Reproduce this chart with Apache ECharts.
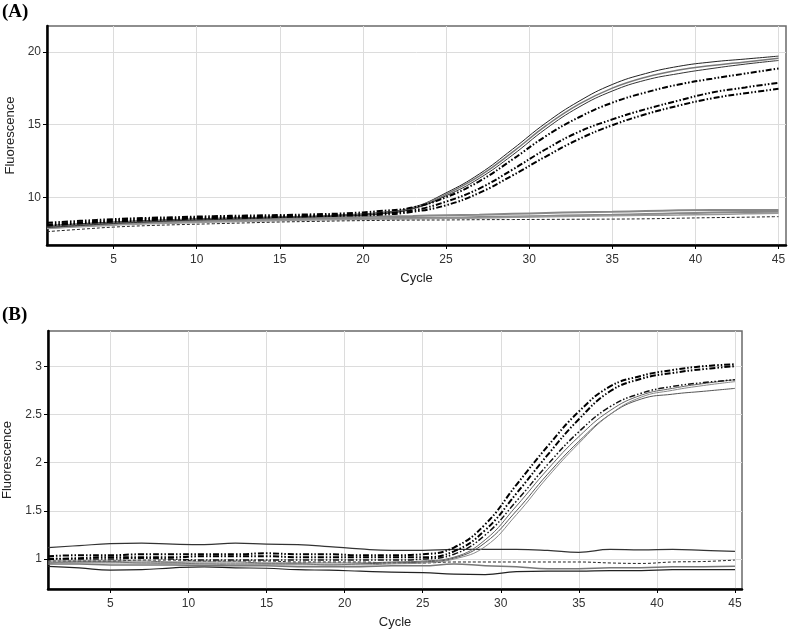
<!DOCTYPE html>
<html>
<head>
<meta charset="utf-8">
<script src="https://cdn.jsdelivr.net/npm/echarts@6/dist/echarts.min.js"></script>
<style>html,body{margin:0;padding:0;background:#fff}#c{width:790px;height:634px}</style>
</head>
<body>
<div id="c"></div>
<script>
// Shared cycle positions
var cycles = [1,3,5,7,9,11,13,15,17,19,21,23,25,27,29,31,33,35,37,39,41,43,45];
var xTicks = [5,10,15,20,25,30,35,40,45];
var yTicksA = [10,15,20];
var yTicksB = [1,1.5,2,2.5,3];

// Panel A
var A_S1 = [8.05,8.18,8.3,8.4,8.48,8.55,8.6,8.65,8.7,8.8,8.95,9.3,10.3,11.6,13.3,15.1,16.6,17.75,18.5,19.0,19.3,19.5,19.7];
var A_S2 = [7.98,8.12,8.25,8.35,8.43,8.5,8.56,8.62,8.68,8.76,8.9,9.25,10.2,11.45,13.1,14.9,16.4,17.5,18.25,18.75,19.05,19.3,19.55];
var A_S3 = [7.92,8.06,8.2,8.3,8.4,8.47,8.53,8.6,8.65,8.72,8.85,9.2,10.1,11.3,12.9,14.7,16.2,17.3,18.05,18.5,18.85,19.15,19.4];
var A_D1 = [8.25,8.38,8.5,8.58,8.64,8.7,8.74,8.78,8.83,8.9,9.05,9.3,10.0,11.1,12.6,14.2,15.5,16.5,17.2,17.75,18.15,18.5,18.85];
var A_D2 = [8.12,8.28,8.4,8.5,8.56,8.62,8.66,8.7,8.75,8.8,8.9,9.1,9.7,10.6,11.9,13.3,14.5,15.35,16.05,16.65,17.2,17.55,17.87];
var A_D3 = [8.05,8.2,8.32,8.42,8.5,8.56,8.6,8.65,8.7,8.74,8.8,9.0,9.45,10.3,11.5,12.8,14.0,14.95,15.7,16.3,16.8,17.15,17.45];
var A_F1 = [7.95,8.1,8.2,8.3,8.37,8.43,8.5,8.55,8.6,8.63,8.68,8.72,8.76,8.8,8.86,8.92,8.97,9.0,9.05,9.1,9.12,9.12,9.13];
var A_F2 = [7.88,8.03,8.14,8.24,8.3,8.36,8.42,8.46,8.5,8.53,8.56,8.58,8.6,8.64,8.68,8.72,8.76,8.8,8.85,8.9,8.95,8.98,9.01];
var A_F3 = [7.85,7.98,8.08,8.18,8.24,8.3,8.35,8.4,8.44,8.47,8.5,8.52,8.55,8.58,8.62,8.66,8.7,8.73,8.76,8.78,8.82,8.86,8.9];
var A_N  = [7.64,7.8,7.95,8.05,8.12,8.18,8.24,8.3,8.34,8.38,8.41,8.43,8.44,8.46,8.47,8.48,8.49,8.5,8.52,8.56,8.6,8.63,8.67];

// Panel B
var B_D1 = [1.03,1.04,1.04,1.05,1.05,1.05,1.05,1.06,1.05,1.05,1.04,1.04,1.05,1.12,1.36,1.77,2.17,2.53,2.79,2.9,2.96,3.0,3.02];
var B_D2 = [1.0,1.01,1.02,1.02,1.02,1.03,1.03,1.03,1.02,1.02,1.02,1.02,1.02,1.08,1.3,1.68,2.08,2.45,2.74,2.87,2.93,2.97,3.0];
var B_D3 = [1.01,1.0,1.0,1.01,1.0,0.99,0.99,0.99,0.99,0.99,0.99,0.99,1.0,1.05,1.25,1.6,1.98,2.32,2.58,2.72,2.79,2.83,2.86];
var B_S1 = [0.98,0.98,0.98,0.98,0.97,0.97,0.97,0.96,0.96,0.96,0.96,0.97,0.98,1.02,1.2,1.55,1.93,2.27,2.54,2.7,2.77,2.82,2.86];
var B_S2 = [0.96,0.97,0.97,0.96,0.96,0.95,0.95,0.95,0.95,0.94,0.95,0.96,0.97,1.01,1.17,1.5,1.88,2.22,2.5,2.66,2.71,2.74,2.77];
var B_S3 = [0.97,0.96,0.96,0.96,0.95,0.95,0.94,0.94,0.94,0.94,0.94,0.95,0.96,1.0,1.13,1.46,1.85,2.2,2.5,2.68,2.75,2.8,2.84];
var B_E1 = [1.12,1.14,1.16,1.165,1.155,1.15,1.165,1.155,1.15,1.13,1.105,1.09,1.09,1.1,1.1,1.1,1.09,1.07,1.1,1.095,1.1,1.09,1.08];
var B_E2 = [0.925,0.91,0.885,0.89,0.91,0.92,0.91,0.905,0.89,0.885,0.875,0.865,0.86,0.845,0.84,0.87,0.875,0.875,0.88,0.88,0.89,0.89,0.89];
var B_E3 = [0.95,0.95,0.94,0.94,0.94,0.93,0.93,0.93,0.92,0.92,0.92,0.93,0.93,0.95,0.93,0.92,0.9,0.9,0.91,0.91,0.92,0.92,0.925];
var B_N  = [0.98,0.98,0.98,0.99,0.99,0.98,0.98,0.98,0.97,0.97,0.97,0.96,0.96,0.97,0.97,0.97,0.97,0.97,0.96,0.955,0.97,0.975,0.99];

var FONT = 'Liberation Sans, Arial, sans-serif';
function pairs(v){ return cycles.map(function(c,i){ return [c, v[i]]; }); }
var DASHDOT = [6,2,1.5,2,1.5,2];

function mkX(idx){
  return {
    type:'value', gridIndex:idx, min:1, max:45.45,
    name:'Cycle', nameLocation:'middle', nameGap:27,
    nameTextStyle:{fontSize:13, color:'#222', fontFamily:FONT},
    axisLine:{show:true, onZero:false, lineStyle:{color:'#000', width:2.5}},
    axisTick:{show:true, length:4, customValues:xTicks, lineStyle:{color:'#000', width:1}},
    axisLabel:{customValues:xTicks, color:'#333', fontSize:12, fontFamily:FONT, margin:9},
    splitLine:{show:true, lineStyle:{color:'#dcdcdc', width:1}}
  };
}
function mkY(idx, mn, mx, ticks){
  return {
    type:'value', gridIndex:idx, min:mn, max:mx,
    name:'Fluorescence', nameLocation:'middle', nameGap:28,
    nameTextStyle:{fontSize:13, color:'#222', fontFamily:FONT},
    axisLine:{show:true, onZero:false, lineStyle:{color:'#000', width:2.5}},
    axisTick:{show:true, length:4, customValues:ticks, lineStyle:{color:'#000', width:1}},
    axisLabel:{customValues:ticks, color:'#333', fontSize:12, fontFamily:FONT, margin:6},
    splitLine:{show:true, lineStyle:{color:'#dcdcdc', width:1}}
  };
}
function ser(idx, v, color, width, type){
  return {
    type:'line', xAxisIndex:idx, yAxisIndex:idx, data:pairs(v),
    showSymbol:false, smooth:0.45, animation:false,
    lineStyle:{color:color, width:width, type:type||'solid'}
  };
}

var chart = echarts.init(document.getElementById('c'), null, {renderer:'canvas'});
chart.setOption({
  animation:false,
  backgroundColor:'#fff',
  graphic:[
    {type:'text', left:2, top:3, style:{text:'(A)', font:'bold 19px "Liberation Serif", "Times New Roman", serif', fill:'#000'}},
    {type:'text', left:2, top:306, style:{text:'(B)', font:'bold 19px "Liberation Serif", "Times New Roman", serif', fill:'#000'}}
  ],
  grid:[
    {left:47, top:26, width:739, height:219, show:true, borderColor:'#6a6a6a', borderWidth:1.5, backgroundColor:'#fff', outerBoundsMode:'none', containLabel:false},
    {left:48, top:331, width:694, height:258, show:true, borderColor:'#6a6a6a', borderWidth:1.5, backgroundColor:'#fff', outerBoundsMode:'none', containLabel:false}
  ],
  xAxis:[mkX(0), mkX(1)],
  yAxis:[mkY(0, 6.72, 21.77, yTicksA), mkY(1, 0.69, 3.365, yTicksB)],
  series:[
    ser(0, A_F1, '#888', 2),
    ser(0, A_F2, '#888', 2),
    ser(0, A_F3, '#999', 1.5),
    ser(0, A_N, '#222', 1, [3,2]),
    ser(0, A_S1, '#222', 1),
    ser(0, A_S2, '#777', 1.5),
    ser(0, A_S3, '#333', 1),
    ser(0, A_D1, '#000', 2, DASHDOT),
    ser(0, A_D2, '#000', 2, DASHDOT),
    ser(0, A_D3, '#000', 2, DASHDOT),

    ser(1, B_E1, '#333', 1.2),
    ser(1, B_E2, '#222', 1.2),
    ser(1, B_E3, '#777', 1.5),
    ser(1, B_N, '#222', 1, [3,2]),
    ser(1, B_S1, '#666', 1),
    ser(1, B_S2, '#555', 1),
    ser(1, B_S3, '#888', 1),
    ser(1, B_D3, '#111', 1.5, DASHDOT),
    ser(1, B_D1, '#000', 2, DASHDOT),
    ser(1, B_D2, '#000', 2, DASHDOT)
  ]
});
</script>
</body>
</html>
